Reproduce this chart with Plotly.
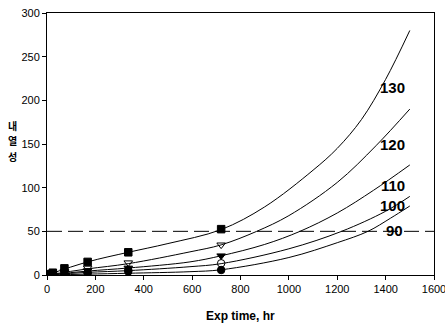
import plotly.graph_objects as go

# measured points (exposure time, hr)
t_pts = [0, 24, 72, 168, 336, 720]
v130 = [1, 2.6, 7.6, 15, 26, 52.5]
v120 = [0.5, 2, 4, 8, 14, 34.5]
v110 = [0.3, 1.5, 3, 5, 8, 22]
v100 = [0.2, 1, 2, 3, 5.7, 13.4]
v90 = [0.1, 0.5, 1, 2, 4, 5.7]

# fitted curves
c130_t = [0, 168, 336, 500, 720, 900, 1100, 1200, 1300, 1400, 1500]
c130_v = [0, 15, 26, 36, 52, 78, 120, 145, 178, 224, 280]
c120_t = [0, 168, 336, 591, 720, 867, 1000, 1200, 1360, 1500]
c120_v = [0, 7, 13, 26.5, 34.5, 50, 68, 106, 148, 190]
c110_t = [0, 168, 336, 591, 720, 900, 1046, 1200, 1350, 1500]
c110_v = [0, 4.5, 8, 15, 22, 35, 50, 71, 97, 126]
c100_t = [0, 168, 336, 591, 720, 1000, 1218, 1400, 1500]
c100_v = [0, 3, 5, 9.5, 13, 30, 50, 73, 90]
c90_t = [0, 168, 336, 591, 720, 1000, 1200, 1327, 1420, 1500]
c90_v = [0, 1, 2, 3.8, 6, 20, 37, 50, 65, 79]

labels = ["130", "120", "110", "100", "90"]
label_t = [1430, 1430, 1430, 1430, 1435]
label_v = [215, 149, 103, 80, 51]

threshold = 50

ylabel_chars = ["내", "열", "성"]
xlabel = "Exp time, hr"

fig = go.Figure()
curves = [(c130_t, c130_v), (c120_t, c120_v), (c110_t, c110_v), (c100_t, c100_v), (c90_t, c90_v)]
for ct, cv in curves:
    fig.add_trace(go.Scatter(x=ct, y=cv, mode="lines",
                             line=dict(color="black", width=1, shape="spline", smoothing=1.0),
                             showlegend=False, hoverinfo="skip"))

series = [(v130, "square"), (v120, "triangle-down-open"), (v110, "triangle-down"),
          (v100, "circle-open"), (v90, "circle")]
for vals, sym in series:
    fig.add_trace(go.Scatter(x=t_pts, y=vals, mode="markers",
                             marker=dict(symbol=sym, size=7.5, color="black",
                                         line=dict(color="black", width=1)),
                             showlegend=False))

fig.add_trace(go.Scatter(x=[0, 1600], y=[threshold, threshold], mode="lines",
                         line=dict(color="black", width=1, dash="15px,6px"),
                         showlegend=False, hoverinfo="skip"))

for lab, lt, lv in zip(labels, label_t, label_v):
    fig.add_annotation(x=lt, y=lv, text="<b>" + lab + "</b>", showarrow=False,
                       font=dict(family="Liberation Sans, Arial", size=15, color="black"))

for i, ch in enumerate(ylabel_chars):
    fig.add_annotation(xref="paper", yref="paper", x=-0.088, y=0.57 - i * 0.058,
                       xanchor="center", yanchor="middle",
                       text="<b>" + ch + "</b>", showarrow=False,
                       font=dict(family="Noto Sans CJK KR", size=10, color="black"))

fig.add_annotation(xref="paper", yref="paper", x=0.5, y=-0.158,
                   xanchor="center", yanchor="middle",
                   text="<b>" + xlabel + "</b>", showarrow=False,
                   font=dict(family="Liberation Sans, Arial", size=12, color="black"))

fig.update_layout(
    width=445, height=326,
    margin=dict(l=47, r=11, t=13, b=51, autoexpand=False),
    paper_bgcolor="white", plot_bgcolor="white",
    font=dict(family="Liberation Sans, Arial", size=11, color="black"),
)
fig.update_xaxes(range=[0, 1600], dtick=200, showgrid=False, zeroline=False,
                 showline=True, linecolor="black", linewidth=1, mirror=True,
                 ticks="outside", ticklen=4, tickcolor="black",
                 ticklabeloverflow="allow", automargin=False)
fig.update_yaxes(range=[0, 300], dtick=50, showgrid=False, zeroline=False,
                 showline=True, linecolor="black", linewidth=1, mirror=True,
                 ticks="outside", ticklen=4, tickcolor="black", automargin=False)

fig.write_html("out.html")
